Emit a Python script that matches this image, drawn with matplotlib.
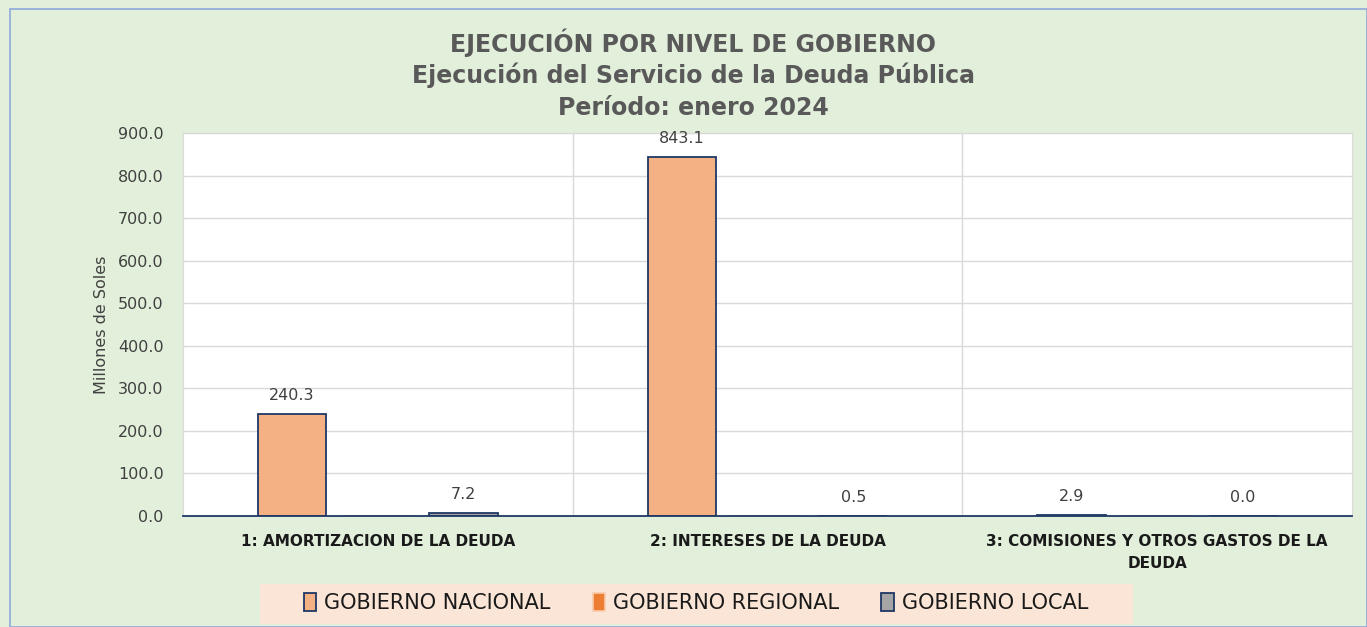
import matplotlib.pyplot as plt
import numpy as np
from matplotlib.patches import Rectangle

categorias = ['1: AMORTIZACION DE LA DEUDA', '2: INTERESES DE LA DEUDA',
              '3: COMISIONES Y OTROS GASTOS DE LA\nDEUDA']
series = ['GOBIERNO NACIONAL', 'GOBIERNO REGIONAL', 'GOBIERNO LOCAL']
nacional = [240.3, 843.1, 2.9]
regional = [0.0, 0.0, 0.0]
local = [7.2, 0.5, 0.0]

bg = '#E2EFDA'
navy = '#1F3864'

fig = plt.figure(figsize=(13.67, 6.27), dpi=100, facecolor=bg)
fig.patches.append(Rectangle((0.007, 0.0), 0.993, 0.985, transform=fig.transFigure,
                             fill=False, edgecolor='#8EA9DB', lw=1.2))
# caja de la leyenda
fig.patches.append(Rectangle((260/1367, 1-624/627), (1133-260)/1367, 40/627,
                             transform=fig.transFigure, facecolor='#FBE5D6',
                             edgecolor='none'))
ax = fig.add_axes([183/1367, 1-516/627, (1352-183)/1367, (516-133)/627])
ax.set_facecolor('white')

x = np.arange(len(categorias))
w = 0.175
off = 0.22
b1 = ax.bar(x - off, nacional, w, color='#F4B183', edgecolor=navy, lw=1.3, label=series[0])
b2 = ax.bar(x, regional, w, color='#ED7D31', edgecolor='#F8CBAD', lw=1.2, label=series[1])
b3 = ax.bar(x + off, local, w, color='#A5A5A5', edgecolor=navy, lw=1.3, label=series[2])

for bars, vals in ((b1, nacional), (b3, local)):
    for r, v in zip(bars, vals):
        ax.annotate(f'{v:.1f}', (r.get_x() + r.get_width()/2, v), xytext=(0, 8),
                    textcoords='offset points', ha='center', va='bottom',
                    fontsize=11.5, color='#404040')

ax.set_xlim(-0.5, 2.5)
ax.set_ylim(0, 900)
ax.set_yticks(np.arange(0, 901, 100))
ax.set_yticklabels([f'{v:.1f}' for v in np.arange(0, 901, 100)], fontsize=11.5, color='#404040')
ax.set_xticks(x)
ax.set_xticklabels(categorias, fontsize=11, fontweight='bold', color='#1a1a1a',
                   linespacing=1.55)
ax.tick_params(axis='y', length=0, pad=14)
ax.tick_params(axis='x', length=0, pad=13)
ax.grid(axis='y', color='#D9D9D9', lw=1)
for s in [0.5, 1.5]:
    ax.axvline(s, color='#D9D9D9', lw=1)
ax.set_axisbelow(True)
for k in ['top', 'right', 'left']:
    ax.spines[k].set_color('#D9D9D9')
ax.spines['bottom'].set_color(navy)
ax.spines['bottom'].set_linewidth(1.3)
ax.set_ylabel('Millones de Soles', fontsize=11.5, color='#404040', labelpad=6)

titulos = ['EJECUCIÓN POR NIVEL DE GOBIERNO', 'Ejecución del Servicio de la Deuda Pública',
           'Período: enero 2024']
for t, yp in zip(titulos, [43, 75, 108]):
    fig.text(0.507, 1-yp/627, t, ha='center', va='center',
             fontsize=17, fontweight='bold', color='#595959')

leg = fig.legend(handles=[b1, b2, b3], labels=series, loc='center',
                 bbox_to_anchor=(696/1367, 1-603/627), ncol=3, fontsize=15,
                 frameon=False, handlelength=0.6, handleheight=1.0,
                 handletextpad=0.4, columnspacing=2.0)
for t in leg.get_texts():
    t.set_color('#1a1a1a')

fig.savefig('out.png', dpi=100, facecolor=bg)
